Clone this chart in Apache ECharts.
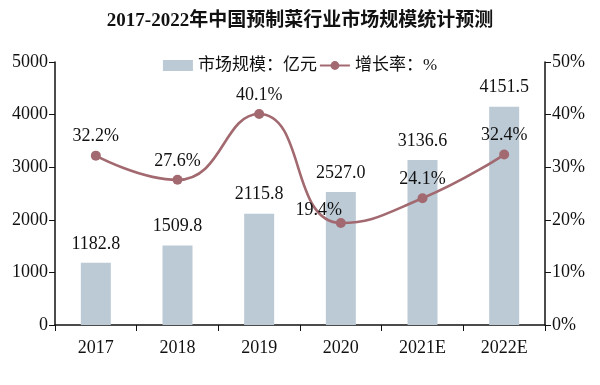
<!DOCTYPE html>
<html><head><meta charset="utf-8">
<script src="https://cdn.jsdelivr.net/npm/echarts@6/dist/echarts.min.js"></script>
<style>html,body{margin:0;padding:0;background:#fff}#c{width:600px;height:385px}</style>
</head><body><div id="c"></div>
<script>
const categories = ['2017','2018','2019','2020','2021E','2022E'];
const marketSize = [1182.8, 1509.8, 2115.8, 2527.0, 3136.6, 4151.5];
const growthRate = [32.2, 27.6, 40.1, 19.4, 24.1, 32.4];
const leftTicks = [0, 1000, 2000, 3000, 4000, 5000];
const rightTicks = [0, 10, 20, 30, 40, 50];

const FONT = '"Liberation Serif","Noto Sans CJK SC",serif';
const chart = echarts.init(document.getElementById('c'));
chart.setOption({
  animation: false,
  title: {
    text: '2017-2022年中国预制菜行业市场规模统计预测',
    left: 'center', top: 7,
    textStyle: {fontFamily: FONT, fontWeight: 'bold', fontSize: 19, color: '#111'}
  },
  legend: {
    top: 52, left: 'center', itemGap: 2, itemWidth: 30, itemHeight: 11,
    textStyle: {fontFamily: FONT, fontSize: 17, color: '#111'},
    data: [{name: '市场规模：亿元', icon: 'rect'}, {name: '增长率：%'}]
  },
  grid: {left: 55, right: 55, top: 62, bottom: 60},
  xAxis: {
    type: 'category', data: categories,
    axisLine: {lineStyle: {color: '#111', width: 1.5}},
    axisTick: {show: true, length: 6, lineStyle: {color: '#111'}},
    axisLabel: {fontFamily: FONT, fontSize: 18, color: '#111', margin: 14}
  },
  yAxis: [{
    type: 'value', min: leftTicks[0], max: leftTicks[leftTicks.length-1], interval: 1000,
    splitLine: {show: false},
    axisLine: {show: true, lineStyle: {color: '#111', width: 1.5}},
    axisTick: {show: true, length: 6, lineStyle: {color: '#111'}},
    axisLabel: {fontFamily: FONT, fontSize: 18, color: '#111', margin: 7, formatter: v => String(v)}
  }, {
    type: 'value', min: rightTicks[0], max: rightTicks[rightTicks.length-1], interval: 10,
    splitLine: {show: false},
    axisLine: {show: true, lineStyle: {color: '#111', width: 1.5}},
    axisTick: {show: true, length: 6, lineStyle: {color: '#111'}},
    axisLabel: {fontFamily: FONT, fontSize: 18, color: '#111', margin: 7, formatter: '{value}%'}
  }],
  series: [{
    name: '市场规模：亿元', type: 'bar', data: marketSize, barWidth: 30,
    itemStyle: {color: '#bccad6'},
    label: {show: true, position: 'top', distance: 10, fontFamily: FONT, fontSize: 18, color: '#111',
      formatter: p => p.value.toFixed(1)}
  }, {
    name: '增长率：%', type: 'line', yAxisIndex: 1,
    data: growthRate.map((v, i) => i === 3 ? {value: v, label: {offset: [-22, 6]}} : v),
    smooth: 0.5,
    symbol: 'circle', symbolSize: 10,
    lineStyle: {color: '#a26a70', width: 2.6},
    itemStyle: {color: '#a26a70'},
    label: {show: true, position: 'top', distance: 5, fontFamily: FONT, fontSize: 18, color: '#111',
      formatter: p => p.value.toFixed(1) + '%'}
  }]
});
</script></body></html>
